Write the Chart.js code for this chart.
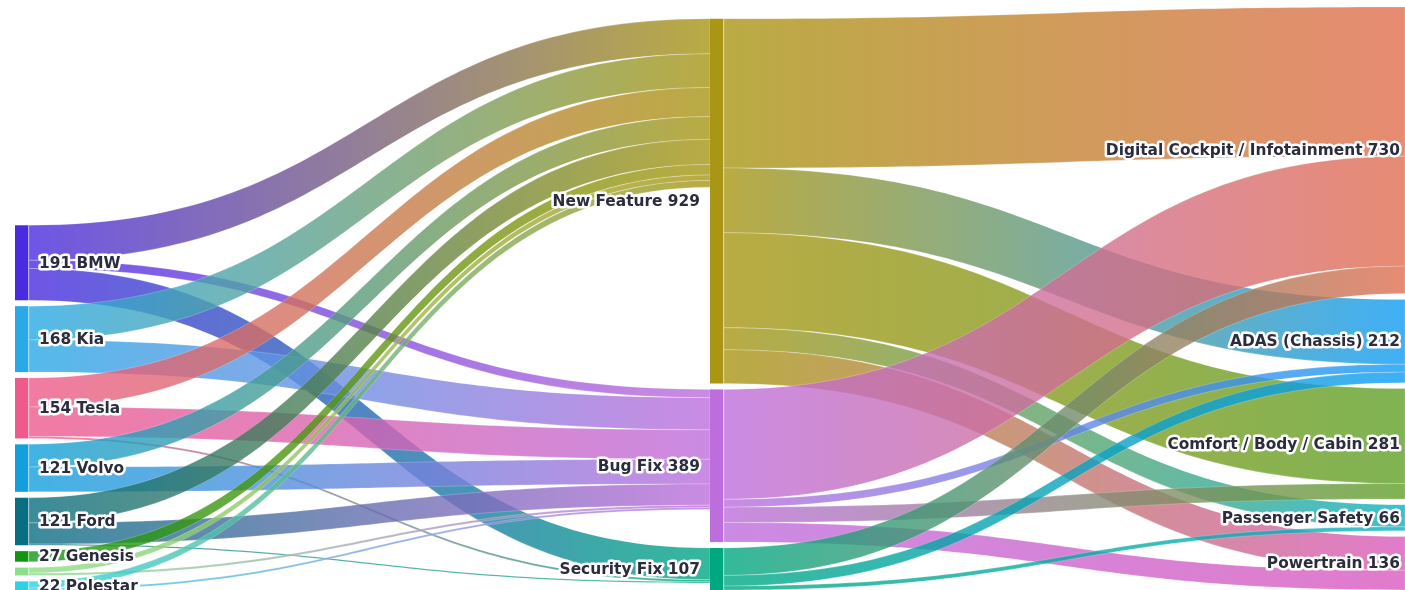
<!DOCTYPE html>
<html>
<head>
<meta charset="utf-8">
<script src="https://cdn.jsdelivr.net/npm/chart.js@4.4.1/dist/chart.umd.min.js"></script>
<style>
  html, body { margin: 0; padding: 0; background: #fff; }
  #wrap { width: 1405px; height: 590px; position: relative; }
</style>
</head>
<body>
<div id="wrap"><canvas id="sankey"></canvas></div>
<script>
// nodes (left: makers, middle: update type, right: domain)
const nodeNames = [
  'BMW', 'Kia', 'Tesla', 'Volvo', 'Ford', 'Genesis', '', 'Polestar',
  'New Feature', 'Bug Fix', 'Security Fix',
  'Digital Cockpit / Infotainment', 'ADAS (Chassis)', 'Comfort / Body / Cabin',
  'Passenger Safety', 'Powertrain'
];
const nodeColors = [
  '#4a2be0', '#29a9e6', '#ee5a8c', '#12a0dc', '#0a6e82', '#129612', '#8ae08a', '#30d2e2',
  '#a89614', '#be6edc', '#00a882',
  '#e16e50', '#109cf4', '#5fa028', '#0cb0c2', '#da5abe'
];

// links
const linkSource = [0, 0, 0, 1, 1, 2, 2, 2, 3, 3, 4, 4, 4, 5, 6, 6, 7, 7,
  8, 8, 8, 8, 8, 9, 9, 9, 9, 10, 10, 10];
const linkTarget = [8, 9, 10, 8, 9, 8, 9, 10, 8, 9, 8, 9, 10, 8, 8, 9, 8, 9,
  11, 12, 13, 14, 15, 11, 12, 13, 15, 11, 12, 14];
const linkValue = [89, 21, 81, 86, 82, 74, 75, 5, 58, 63, 64, 54, 3, 27, 14, 6, 17, 5,
  380, 165, 242, 56, 86, 280, 20, 39, 50, 70, 27, 10];

const nodePad = 15;     // gap between nodes, in flow units
const nodeWidth = 14;   // px
const linkAlpha = 0.8;

// ---- layout in data units ----
const nodes = nodeNames.map((name, i) => ({ i, name, color: nodeColors[i], inV: 0, outV: 0, col: 0, src: [], tgt: [] }));
const links = linkValue.map((v, i) => ({ s: nodes[linkSource[i]], t: nodes[linkTarget[i]], v }));
links.forEach(l => {
  l.s.outV += l.v; l.t.inV += l.v;
  l.s.src.push(l); l.t.tgt.push(l);
});
nodes.forEach(n => n.value = Math.max(n.inV, n.outV));

// column = longest path from a source node
let changed = true;
while (changed) {
  changed = false;
  links.forEach(l => {
    if (l.t.col < l.s.col + 1) { l.t.col = l.s.col + 1; changed = true; }
  });
}
const nCols = Math.max(...nodes.map(n => n.col)) + 1;
const columns = [];
for (let c = 0; c < nCols; c++) columns.push(nodes.filter(n => n.col === c));
const colTotals = columns.map(col => col.reduce((a, n) => a + n.value, 0) + (col.length - 1) * nodePad);
const yMax = Math.max(...colTotals);

// stack each column from the bottom
columns.forEach((col, c) => {
  let y = yMax - colTotals[c];
  col.forEach(n => { n.y0 = y; n.y1 = y + n.value; y = n.y1 + nodePad; });
});
nodes.forEach(n => {
  n.src.sort((a, b) => a.t.y0 - b.t.y0);
  n.tgt.sort((a, b) => a.s.y0 - b.s.y0);
  let y = n.y0;
  n.src.forEach(l => { l.sy = y; y += l.v; });
  y = n.y0;
  n.tgt.forEach(l => { l.ty = y; y += l.v; });
});

const sankeyPlugin = {
  id: 'sankeyDraw',
  afterDatasetsDraw(chart) {
    const ctx = chart.ctx;
    const xs = chart.scales.x, ys = chart.scales.y;
    const px = c => xs.getPixelForValue(c);
    const py = v => ys.getPixelForValue(v);

    // links
    links.forEach(l => {
      const x0 = px(l.s.col) + nodeWidth, x1 = px(l.t.col);
      const xm = (x0 + x1) / 2;
      const a0 = py(l.sy), a1 = py(l.sy + l.v);
      const b0 = py(l.ty), b1 = py(l.ty + l.v);
      const g = ctx.createLinearGradient(x0, 0, x1, 0);
      g.addColorStop(0, l.s.color);
      g.addColorStop(1, l.t.color);
      ctx.save();
      ctx.globalAlpha = linkAlpha;
      ctx.beginPath();
      ctx.moveTo(x0, a0);
      ctx.bezierCurveTo(xm, a0, xm, b0, x1, b0);
      ctx.lineTo(x1, b1);
      ctx.bezierCurveTo(xm, b1, xm, a1, x0, a1);
      ctx.closePath();
      ctx.fillStyle = g;
      ctx.fill();
      ctx.globalAlpha = 0.35;
      ctx.strokeStyle = '#ffffff';
      ctx.lineWidth = 0.6;
      ctx.stroke();
      ctx.restore();
    });

    // nodes
    nodes.forEach(n => {
      const x = px(n.col);
      ctx.fillStyle = n.color;
      ctx.fillRect(x, py(n.y0), nodeWidth, py(n.y1) - py(n.y0));
      ctx.fillStyle = 'rgba(255,255,255,0.6)';
      ctx.fillRect(x + nodeWidth - 1, py(n.y0), 1, py(n.y1) - py(n.y0));
    });

    // labels
    ctx.save();
    ctx.font = 'bold 15.4px "DejaVu Sans", sans-serif';
    ctx.textBaseline = 'middle';
    ctx.lineJoin = 'round';
    ctx.lineWidth = 5;
    ctx.strokeStyle = '#ffffff';
    ctx.fillStyle = '#2b2d3e';
    nodes.forEach(n => {
      if (!n.name) return;
      const y = (py(n.y0) + py(n.y1)) / 2 + 1;
      let text, x;
      if (n.col === 0) {
        text = n.value + ' ' + n.name;
        x = px(n.col) + nodeWidth + 10;
        ctx.textAlign = 'left';
      } else {
        text = n.name + ' ' + n.value;
        x = Math.min(px(n.col), chart.width) - (n.col === nCols - 1 ? 5 : 10);
        ctx.textAlign = 'right';
      }
      ctx.strokeText(text, x, y);
      ctx.fillText(text, x, y);
    });
    ctx.restore();
  }
};

new Chart(document.getElementById('sankey'), {
  type: 'scatter',
  data: { datasets: [{ data: [], pointRadius: 0 }] },
  options: {
    responsive: true,
    maintainAspectRatio: false,
    animation: false,
    layout: { padding: { left: 15, right: 0, top: 7, bottom: 0 } },
    scales: {
      x: { type: 'linear', min: 0, max: nCols - 1, display: false },
      y: { type: 'linear', min: 0, max: yMax, reverse: true, display: false }
    },
    plugins: { legend: { display: false }, tooltip: { enabled: false } }
  },
  plugins: [sankeyPlugin]
});
</script>
</body>
</html>
